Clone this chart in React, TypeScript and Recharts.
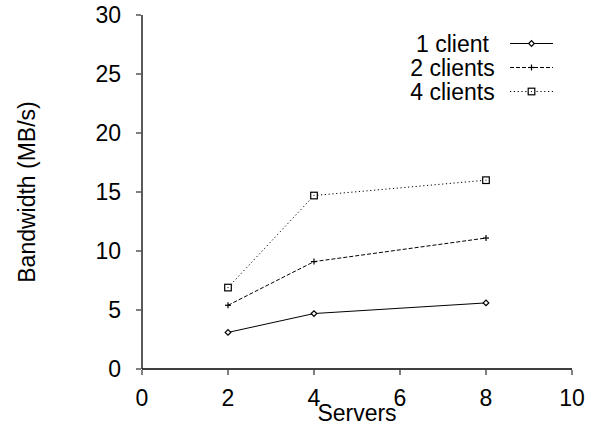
import React from "react";
import { LineChart, Line, XAxis, YAxis, Legend } from "recharts";

const servers = [2, 4, 8];
const oneClient = [3.1, 4.7, 5.6];
const twoClients = [5.4, 9.1, 11.1];
const fourClients = [6.9, 14.7, 16.0];
const seriesNames = ["1 client", "2 clients", "4 clients"];
const seriesKeys = ["one", "two", "four"];
const xTicks = [0, 2, 4, 6, 8, 10];
const yTicks = [0, 5, 10, 15, 20, 25, 30];

const data = servers.map((s, i) => ({
  servers: s,
  one: oneClient[i],
  two: twoClients[i],
  four: fourClients[i],
}));

const FONT = "'Liberation Sans', Arial, Helvetica, sans-serif";
const FS = 23;

const dashes = [undefined, "4 2", "1.2 2.6"];

function Marker({ kind, cx, cy }: { kind: number; cx: number; cy: number }) {
  if (cx == null || cy == null) return null;
  if (kind === 0) {
    const r = 2.8;
    return (
      <path
        d={`M${cx - r},${cy} L${cx},${cy - r} L${cx + r},${cy} L${cx},${cy + r} Z`}
        fill="#fff"
        stroke="#000"
        strokeWidth={1.2}
      />
    );
  }
  if (kind === 1) {
    const r = 3;
    return (
      <g stroke="#000" strokeWidth={1.2}>
        <line x1={cx - r} x2={cx + r} y1={cy} y2={cy} />
        <line x1={cx} x2={cx} y1={cy - r} y2={cy + r} />
      </g>
    );
  }
  const r = 3.3;
  return (
    <g>
      <rect x={cx - r} y={cy - r} width={2 * r} height={2 * r} fill="#fff" stroke="#000" strokeWidth={1.2} />
      <rect x={cx - 0.5} y={cy - 0.5} width={1} height={1} fill="#000" />
    </g>
  );
}

const textProps = { fontFamily: FONT, fontSize: FS, fill: "#000" };

const BottomTick = (p: any) => (
  <g>
    <line x1={p.x} x2={p.x} y1={p.y} y2={p.y - 5} stroke="#000" />
    <text x={p.x} y={p.y + 31} textAnchor="middle" {...textProps}>
      {p.payload.value}
    </text>
  </g>
);
const TopTick = (p: any) => <line x1={p.x} x2={p.x} y1={p.y} y2={p.y + 5} stroke="#000" />;
const LeftTick = (p: any) => (
  <g>
    <line x1={p.x} x2={p.x + 5} y1={p.y} y2={p.y} stroke="#000" />
    <text x={p.x - 15} y={p.y + 8} textAnchor="end" {...textProps}>
      {p.payload.value}
    </text>
  </g>
);
const RightTick = (p: any) => <line x1={p.x} x2={p.x - 5} y1={p.y} y2={p.y} stroke="#000" />;

const LegendContent = () => (
  <svg width={594} height={110} style={{ display: "block" }}>
    {seriesNames.map((name, i) => {
      const y = 43.5 + i * 24;
      return (
        <g key={name}>
          <text x={452.5} y={y + 8} textAnchor="middle" {...textProps}>
            {name}
          </text>
          <line x1={510} x2={553} y1={y} y2={y} stroke="#000" strokeWidth={1} strokeDasharray={dashes[i]} />
          <Marker kind={i} cx={531.5} cy={y} />
        </g>
      );
    })}
  </svg>
);

export default function App() {
  return (
    <div style={{ position: "absolute", left: 0, top: 0, width: 594, height: 427, background: "#fff" }}>
      <LineChart width={594} height={427} data={data} margin={{ top: 15, right: 22, bottom: 0, left: 0 }}>
        <XAxis
          xAxisId="b"
          dataKey="servers"
          type="number"
          domain={[0, 10]}
          ticks={xTicks}
          orientation="bottom"
          height={58}
          tickLine={false}
          tickMargin={0}
          axisLine={{ stroke: "#000", strokeWidth: 1.3 }}
          tick={BottomTick}
          interval={0}
          label={{ value: "Servers", position: "insideBottom", offset: 6, style: { fontFamily: FONT, fontSize: FS, fill: "#000" } }}
        />
        <XAxis
          xAxisId="t"
          dataKey="servers"
          type="number"
          domain={[0, 10]}
          ticks={xTicks}
          orientation="top"
          height={0}
          tickLine={false}
          tickMargin={0}
          axisLine={{ stroke: "#000", strokeWidth: 1.3 }}
          tick={TopTick}
          interval={0}
        />
        <YAxis
          yAxisId="l"
          type="number"
          domain={[0, 30]}
          ticks={yTicks}
          width={142}
          tickLine={false}
          tickMargin={0}
          axisLine={{ stroke: "#000", strokeWidth: 1.3 }}
          tick={LeftTick}
          interval={0}
          label={({ viewBox }: any) => {
            const cx = 35;
            const cy = viewBox.y + viewBox.height / 2;
            return (
              <text x={cx} y={cy} textAnchor="middle" transform={`rotate(-90 ${cx} ${cy})`} {...textProps}>
                Bandwidth (MB/s)
              </text>
            );
          }}
        />
        <YAxis
          yAxisId="r"
          orientation="right"
          type="number"
          domain={[0, 30]}
          ticks={yTicks}
          width={0}
          tickLine={false}
          tickMargin={0}
          axisLine={{ stroke: "#000", strokeWidth: 1.3 }}
          tick={RightTick}
          interval={0}
        />
        <Legend
          layout="vertical"
          align="center"
          verticalAlign="middle"
          content={LegendContent}
          wrapperStyle={{ position: "absolute", left: 0, top: 0, width: 594, height: 110, margin: 0 }}
        />
        {seriesKeys.map((k, i) => (
          <Line
            key={k}
            xAxisId="b"
            yAxisId="l"
            dataKey={k}
            name={seriesNames[i]}
            stroke="#000"
            strokeWidth={1}
            strokeDasharray={dashes[i]}
            dot={(p: any) => <Marker key={`${k}-${p.index}`} kind={i} cx={p.cx} cy={p.cy} />}
            activeDot={false}
            isAnimationActive={false}
          />
        ))}
      </LineChart>
    </div>
  );
}
